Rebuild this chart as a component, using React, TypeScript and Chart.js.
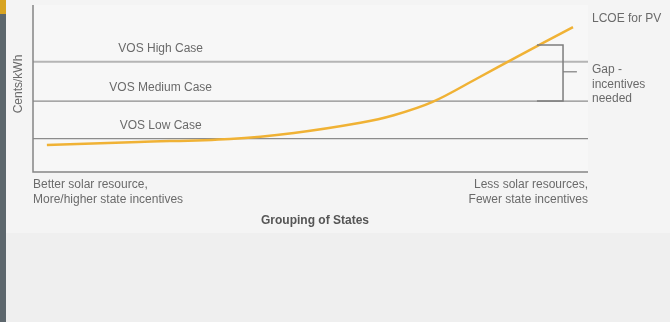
import React, { useEffect, useRef } from "react";
import { Chart, registerables } from "chart.js";

Chart.register(...registerables);

// Data (arbitrary units: x = grouping of states 0..100, y = cents/kWh 0..10)
const lcoeX = [2.5, 19, 35.5, 47, 59, 65, 72, 80, 87.2, 97.3];
const lcoeY = [1.62, 1.8, 1.98, 2.34, 2.95, 3.4, 4.2, 5.6, 6.89, 8.68];
const vosLabels = ["VOS High Case", "VOS Medium Case", "VOS Low Case"];
const vosValues = [6.6, 4.25, 2.0];
const xRange = [0, 100];
const bracketX = [90.8, 95.5];
const bracketTop = 7.6;
const arrowY = 6.0;
const arrowEndX = 98.0;
const leftLabel = ["Better solar resource,", "More/higher state incentives"];
const rightLabel = ["Less solar resources,", "Fewer state incentives"];
const xTitle = "Grouping of States";
const yTitle = "Cents/kWh";
const lcoeLabel = "LCOE for PV";
const gapLabel = ["Gap -", "incentives", "needed"];

const FONT = "'Liberation Sans', Arial, sans-serif";

export default function App() {
  const ref = useRef<HTMLCanvasElement | null>(null);

  useEffect(() => {
    const canvas = ref.current;
    if (!canvas) return;

    const decor = {
      id: "decor",
      beforeDraw(chart: any) {
        const { ctx, chartArea } = chart;
        ctx.save();
        ctx.fillStyle = "#efefef";
        ctx.fillRect(0, 0, 670, 322);
        ctx.fillStyle = "#f4f4f4";
        ctx.fillRect(6, 0, 664, 233);
        ctx.fillStyle = "#f7f7f7";
        ctx.fillRect(chartArea.left, chartArea.top, chartArea.right - chartArea.left, chartArea.bottom - chartArea.top);
        ctx.fillStyle = "#5d676d";
        ctx.fillRect(0, 0, 6, 322);
        ctx.fillStyle = "#d8a422";
        ctx.fillRect(0, 0, 6, 14);
        ctx.restore();
      },
      afterDraw(chart: any) {
        const { ctx, chartArea, scales } = chart;
        const xs = scales.x;
        const ys = scales.y;
        ctx.save();
        // axes
        ctx.strokeStyle = "#858585";
        ctx.lineWidth = 1.5;
        ctx.beginPath();
        ctx.moveTo(chartArea.left, chartArea.top);
        ctx.lineTo(chartArea.left, chartArea.bottom);
        ctx.lineTo(chartArea.right, chartArea.bottom);
        ctx.stroke();

        ctx.fillStyle = "#6a6a6a";
        ctx.font = `12px ${FONT}`;
        ctx.textBaseline = "middle";
        // VOS labels
        ctx.textAlign = "center";
        const labX = xs.getPixelForValue(23);
        vosLabels.forEach((t, i) => {
          ctx.fillText(t, labX, ys.getPixelForValue(vosValues[i]) - 13);
        });
        // LCOE label
        ctx.textAlign = "left";
        ctx.fillText(lcoeLabel, chartArea.right + 4, 19);
        gapLabel.forEach((t, i) => {
          ctx.fillText(t, chartArea.right + 4, ys.getPixelForValue(arrowY) - 2 + i * 14.5);
        });
        // bottom labels
        ctx.textAlign = "left";
        leftLabel.forEach((t, i) => ctx.fillText(t, chartArea.left, chartArea.bottom + 13 + i * 14.5));
        ctx.textAlign = "right";
        rightLabel.forEach((t, i) => ctx.fillText(t, chartArea.right, chartArea.bottom + 13 + i * 14.5));
        // x title
        ctx.textAlign = "center";
        ctx.font = `bold 12px ${FONT}`;
        ctx.fillStyle = "#555555";
        ctx.fillText(xTitle, 315, chartArea.bottom + 49);
        // y title
        ctx.font = `12px ${FONT}`;
        ctx.fillStyle = "#6a6a6a";
        ctx.translate(19, 84);
        ctx.rotate(-Math.PI / 2);
        ctx.fillText(yTitle, 0, 0);
        ctx.restore();
      },
    };

    const refDatasets = vosValues.map((v, i) => ({
      label: vosLabels[i],
      data: [
        { x: xRange[0], y: v },
        { x: xRange[1], y: v },
      ],
      borderColor: i === 0 ? "#b5b5b5" : "#8c8c8c",
      borderWidth: i === 0 ? 2 : 1.3,
      pointRadius: 0,
      tension: 0,
      order: 2,
    }));

    const chart = new Chart(canvas, {
      type: "line",
      data: {
        datasets: [
          {
            label: lcoeLabel,
            data: lcoeX.map((x, i) => ({ x, y: lcoeY[i] })),
            borderColor: "#f0b235",
            borderWidth: 2.5,
            pointRadius: 0,
            tension: 0.35,
            order: 1,
          },
          ...refDatasets,
          {
            label: "bracket",
            data: [
              { x: bracketX[0], y: bracketTop },
              { x: bracketX[1], y: bracketTop },
              { x: bracketX[1], y: vosValues[1] },
              { x: bracketX[0], y: vosValues[1] },
            ],
            borderColor: "#7d7d7d",
            borderWidth: 1.5,
            pointRadius: 0,
            tension: 0,
            order: 0,
          },
          {
            label: "arrow",
            data: [
              { x: bracketX[1], y: arrowY },
              { x: arrowEndX, y: arrowY },
            ],
            borderColor: "#7d7d7d",
            borderWidth: 1.2,
            pointRadius: 0,
            tension: 0,
            order: 0,
          },
        ] as any,
      },
      options: {
        animation: false,
        responsive: false,
        layout: { padding: { left: 33, right: 82, top: 5, bottom: 150 } },
        plugins: { legend: { display: false }, tooltip: { enabled: false } },
        scales: {
          x: { type: "linear", min: 0, max: 100, display: false },
          y: { type: "linear", min: 0, max: 10, display: false },
        },
      },
      plugins: [decor],
    });

    return () => chart.destroy();
  }, []);

  return (
    <div style={{ position: "absolute", left: 0, top: 0, width: 670, height: 322 }}>
      <canvas ref={ref} width={670} height={322} style={{ display: "block" }} />
    </div>
  );
}
